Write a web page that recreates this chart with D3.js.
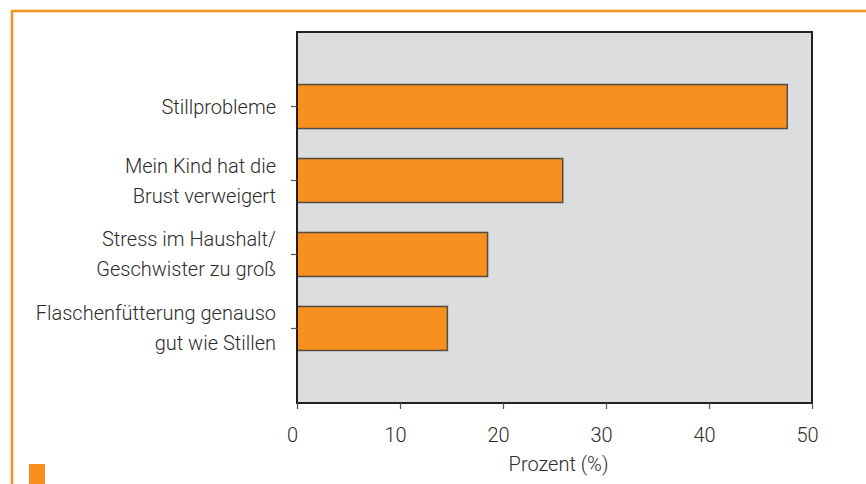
<!DOCTYPE html>
<html>
<head>
<meta charset="utf-8">
<script src="https://cdn.jsdelivr.net/npm/d3@7"></script>
<style>
  body { margin: 0; background: #fff; }
  svg text { font-family: Roboto, "Liberation Sans", sans-serif; font-weight: 300; fill: #2b2b2b; }
</style>
</head>
<body>
<div id="layout"></div>
<script>
// chart data
var categories = [
  ["Stillprobleme"],
  ["Mein Kind hat die", "Brust verweigert"],
  ["Stress im Haushalt/", "Geschwister zu groß"],
  ["Flaschenfütterung genauso", "gut wie Stillen"]
];
var values = [47.6, 25.8, 18.5, 14.6];
var xTicks = [0, 10, 20, 30, 40, 50];
var xLabel = "Prozent (%)";

var outerWidth = 866,
    outerHeight = 484,
    margin = { top: 32, right: 54, bottom: 81, left: 297 },
    width = outerWidth - margin.left - margin.right,
    height = outerHeight - margin.top - margin.bottom,
    orange = "#f7901e";

var root = d3.select("#layout")
             .append("svg")
             .attr("width", outerWidth)
             .attr("height", outerHeight);

// orange page frame
root.append("line")
    .attr("x1", 11).attr("x2", outerWidth)
    .attr("y1", 11).attr("y2", 11)
    .attr("stroke", orange).attr("stroke-width", 2.5);
root.append("line")
    .attr("x1", 12).attr("x2", 12)
    .attr("y1", 10).attr("y2", outerHeight)
    .attr("stroke", orange).attr("stroke-width", 2.5);
root.append("rect")
    .attr("x", 29).attr("y", 464)
    .attr("width", 16).attr("height", 20)
    .attr("fill", orange);

var svg = root.append("g")
              .attr("transform", "translate(" + margin.left + "," + margin.top + ")");

var xScale = d3.scaleLinear()
               .domain([0, 50])
               .range([0, width]);

var yScale = d3.scaleBand()
               .domain(d3.range(categories.length))
               .range([0, height])
               .paddingInner(0.405)
               .paddingOuter(0.71);

// plot background
svg.append("rect")
   .attr("width", width)
   .attr("height", height)
   .attr("fill", "#dcdddf");

// bars
svg.selectAll("rect.bar")
   .data(values)
   .enter()
   .append("rect")
   .attr("class", "bar")
   .attr("x", xScale(0))
   .attr("y", (d, i) => yScale(i))
   .attr("width", (d) => xScale(d) - xScale(0))
   .attr("height", yScale.bandwidth())
   .attr("fill", orange)
   .attr("stroke", "#3a3a3a")
   .attr("stroke-opacity", 0.85)
   .attr("stroke-width", 1.5);

// frame
svg.append("rect")
   .attr("width", width)
   .attr("height", height)
   .attr("fill", "none")
   .attr("stroke", "#231f20")
   .attr("stroke-width", 2);

// x axis
var xAxis = d3.axisBottom(xScale)
              .tickValues(xTicks)
              .tickSize(6)
              .tickPadding(19)
              .tickFormat(d3.format("d"));

var gx = svg.append("g")
            .attr("transform", "translate(0," + height + ")")
            .call(xAxis);
gx.select(".domain").remove();
gx.selectAll("line").attr("stroke", "#555").attr("stroke-width", 1.2);
gx.selectAll("text")
  .attr("dx", -5)
  .attr("font-size", "20px")
  .attr("fill", "#2b2b2b")
  .style("font-family", "Roboto, 'Liberation Sans', sans-serif")
  .style("font-weight", 300);

// y axis
var yAxis = d3.axisLeft(yScale)
              .tickSize(6)
              .tickFormat("");

var gy = svg.append("g").call(yAxis);
gy.select(".domain").remove();
gy.selectAll("line").attr("stroke", "#555").attr("stroke-width", 1.2);

// y labels, possibly two lines
var lineGap = 30;
svg.selectAll("text.ylabel")
   .data(categories)
   .enter()
   .append("text")
   .attr("class", "ylabel")
   .attr("text-anchor", "end")
   .attr("font-size", "20px")
   .each(function(lines, i) {
     var cy = yScale(i) + yScale.bandwidth() / 2;
     var first = cy - (lines.length - 1) * lineGap / 2;
     d3.select(this).selectAll("tspan")
       .data(lines)
       .enter()
       .append("tspan")
       .attr("x", -21)
       .attr("y", (l, j) => first + j * lineGap)
       .attr("dy", "0.35em")
       .text((l) => l);
   });

// x label
svg.append("text")
   .attr("text-anchor", "middle")
   .attr("x", width / 2 + 4)
   .attr("y", height + 68)
   .attr("font-size", "20px")
   .text(xLabel);
</script>
</body>
</html>
